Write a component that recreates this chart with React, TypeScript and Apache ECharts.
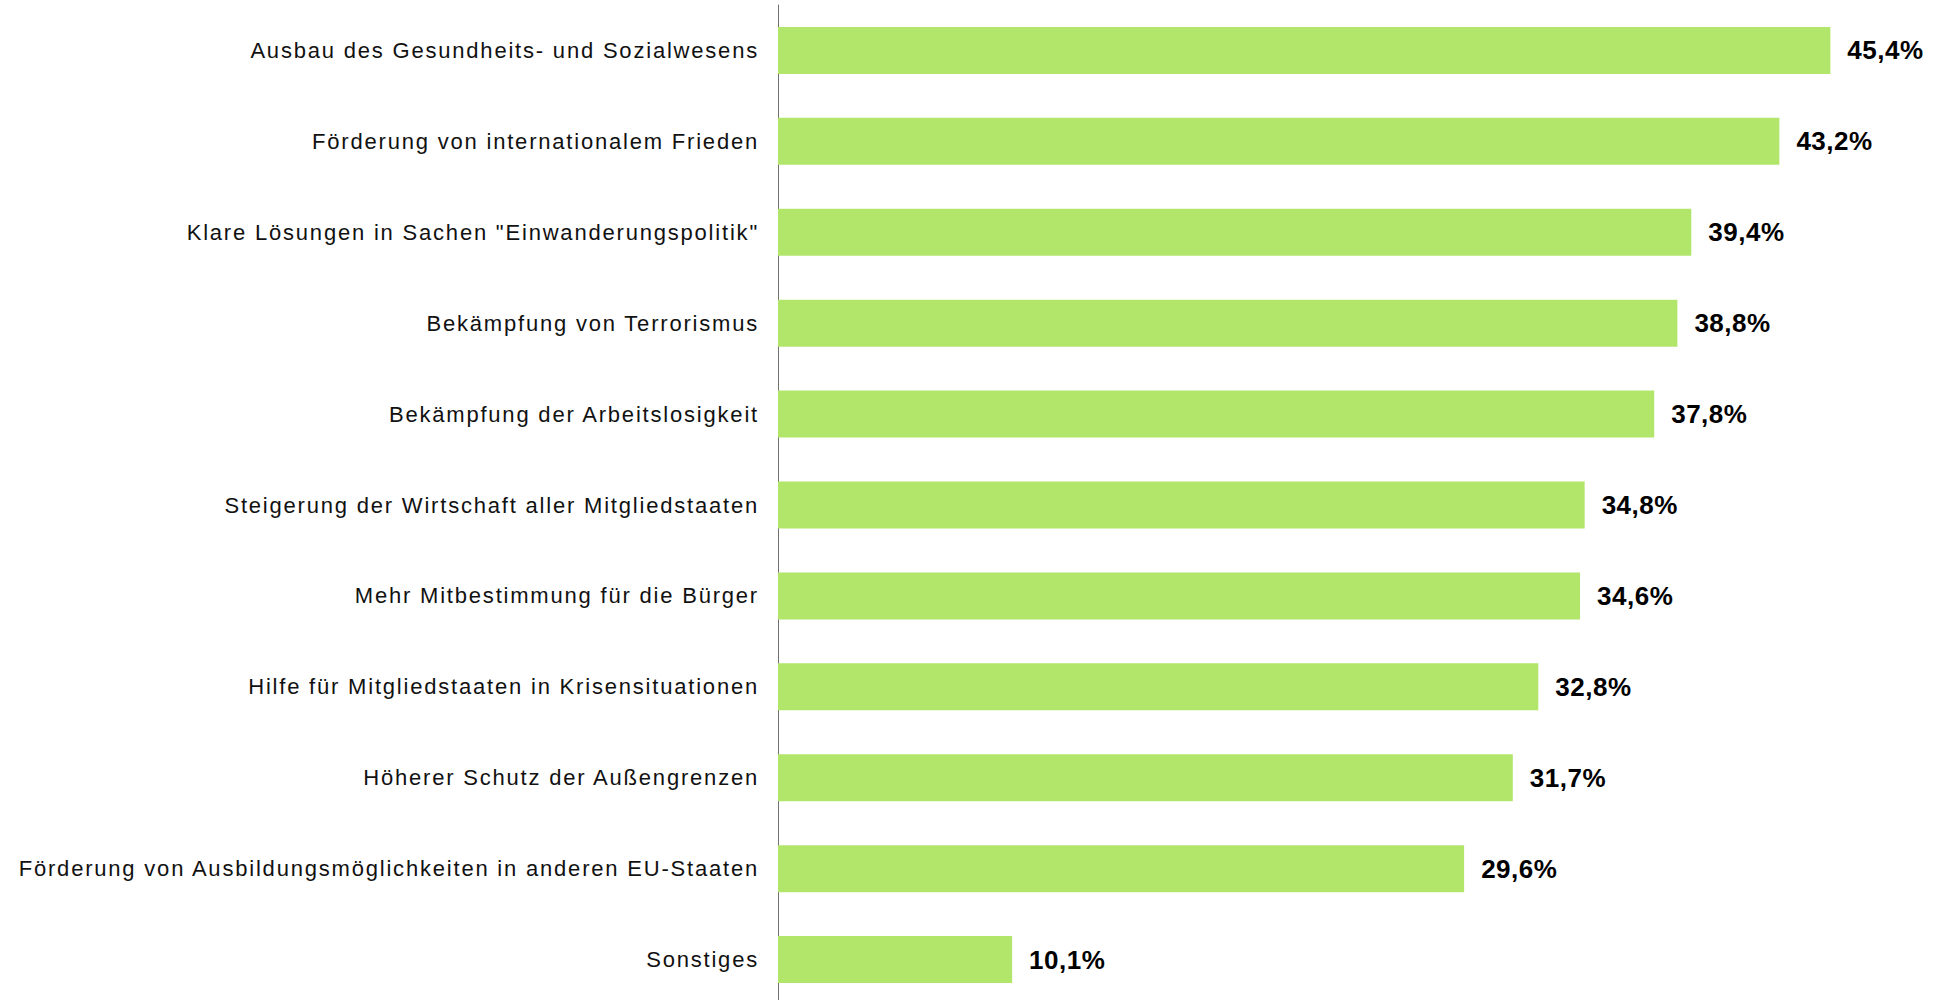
import React, { useEffect, useRef } from "react";
import * as echarts from "echarts";

const categories = [
  "Ausbau des Gesundheits- und Sozialwesens",
  "Förderung von internationalem Frieden",
  "Klare Lösungen in Sachen \"Einwanderungspolitik\"",
  "Bekämpfung von Terrorismus",
  "Bekämpfung der Arbeitslosigkeit",
  "Steigerung der Wirtschaft aller Mitgliedstaaten",
  "Mehr Mitbestimmung für die Bürger",
  "Hilfe für Mitgliedstaaten in Krisensituationen",
  "Höherer Schutz der Außengrenzen",
  "Förderung von Ausbildungsmöglichkeiten in anderen EU-Staaten",
  "Sonstiges",
];

const values = [45.4, 43.2, 39.4, 38.8, 37.8, 34.8, 34.6, 32.8, 31.7, 29.6, 10.1];

const FONT = "Liberation Sans, Arial, sans-serif";

export default function App() {
  const ref = useRef<HTMLDivElement>(null);
  useEffect(() => {
    if (!ref.current) return;
    const el = ref.current;
    const chart = echarts.init(el, null, { renderer: "svg" });
    const spaceLetters = () => {
      el.querySelectorAll("text").forEach((t) => {
        const st = (t.getAttribute("style") || "") + " " + (t.getAttribute("font-weight") || "");
        const bold = /bold/.test(st);
        t.setAttribute("letter-spacing", bold ? "0.5px" : "1.8px");
      });
    };
    chart.on("finished", spaceLetters);
    chart.setOption({
      animation: false,
      backgroundColor: "#ffffff",
      textStyle: { fontFamily: FONT },
      grid: { left: 778, top: 5, width: 1159, height: 1000, containLabel: false },
      xAxis: {
        type: "value",
        min: 0,
        max: 50,
        show: false,
      },
      yAxis: {
        type: "category",
        inverse: true,
        data: categories,
        axisLine: { show: true, lineStyle: { color: "#707070", width: 1 } },
        axisTick: { show: false },
        splitLine: { show: false },
        axisLabel: {
          fontSize: 22,
          color: "#111111",
          margin: 19,
          fontFamily: FONT,
        },
      },
      series: [
        {
          type: "bar",
          data: values,
          barWidth: 47,
          itemStyle: { color: "#b2e66b" },
          label: {
            show: true,
            position: "right",
            distance: 17,
            fontSize: 26,
            fontWeight: "bold",
            color: "#000000",
            fontFamily: FONT,
            formatter: (p: any) => p.value.toFixed(1).replace(".", ",") + "%",
          },
        },
      ],
    });
    spaceLetters();
    return () => chart.dispose();
  }, []);
  return (
    <div
      ref={ref}
      style={{ position: "fixed", left: 0, top: 0, width: 1944, height: 1010 }}
    />
  );
}
